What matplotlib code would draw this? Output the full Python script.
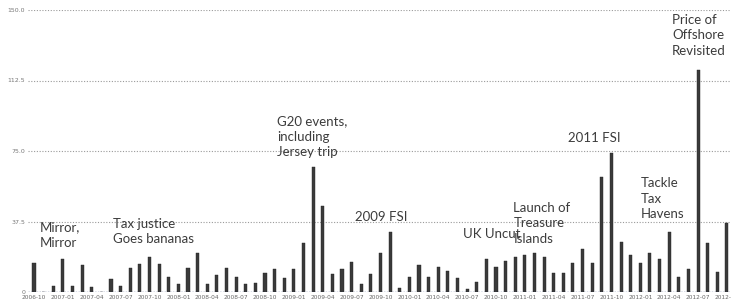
import matplotlib
matplotlib.use("Agg")
import matplotlib.pyplot as plt

# Monthly counts, 2006-10 .. 2012-10
VALUES = [
    15.3, 0, 3, 17.4, 3, 14.3, 2.5, 0, 7, 3,
    12.7, 14.8, 18.5, 14.8, 8, 4, 12.7, 20.6, 4.5, 9,
    12.7, 8, 4, 4.8, 10, 12.2, 7.4, 12.2, 26, 66.5,
    46, 9.5, 12.2, 16, 4.2, 9.5, 21, 31.7, 2, 8,
    14.3, 8, 13.2, 11, 7.4, 1.5, 5.3, 17.4, 13.2, 16.4,
    18.5, 19.5, 20.6, 18.5, 10, 10, 15.3, 22.7, 15.3, 61.3,
    74, 26.4, 19.5, 15.3, 20.6, 17.4, 31.7, 8, 12.2, 118,
    26, 10.6, 36.5,
]
TICK_LABELS = [
    "2006-10", "2007-01", "2007-04", "2007-07", "2007-10",
    "2008-01", "2008-04", "2008-07", "2008-10",
    "2009-01", "2009-04", "2009-07", "2009-10",
    "2010-01", "2010-04", "2010-07", "2010-10",
    "2011-01", "2011-04", "2011-07", "2011-10",
    "2012-01", "2012-04", "2012-07", "2012-10",
]
Y_TICKS = [0, 37.5, 75.0, 112.5, 150.0]
Y_LABELS = ["0", "37.5", "75.0", "112.5", "150.0"]

# annotation text, anchored at (bar index, value) of its upper-left corner
NOTES = [
    ("Mirror,\nMirror", 0.6, 37.5),
    ("Tax justice\nGoes bananas", 8.2, 39.5),
    ("G20 events,\nincluding\nJersey trip", 25.3, 94),
    ("2009 FSI", 33.4, 43),
    ("UK Uncut", 44.6, 34),
    ("Launch of\nTreasure\nIslands", 49.8, 48),
    ("2011 FSI", 55.5, 85),
    ("Tackle\nTax\nHavens", 63.0, 61),
    ("Price of\nOffshore\nRevisited", 66.3, 148),
]

TEXT = "#3c3c3c"
BAR = "#3a3a3a"
GRID = "#9a9a9a"

fig = plt.figure(figsize=(7.31, 3.04), dpi=100)
ax = fig.add_axes([28 / 731, 12 / 304, 703 / 731, 282 / 304])

x = list(range(len(VALUES)))
ax.bar(x, VALUES, width=0.32, color=BAR, edgecolor="#222222", linewidth=0.3,
       zorder=3)

ax.set_xlim(-0.62, 72.42)
ax.set_ylim(0, 150)
ax.set_yticks(Y_TICKS)
ax.set_yticklabels(Y_LABELS, fontsize=4.5, color="#777777")
ax.set_xticks(x[::3])
ax.set_xticklabels(TICK_LABELS, fontsize=4.2, color="#666666")
ax.tick_params(length=0, pad=2)

for v in Y_TICKS[1:]:
    ax.axhline(v, color=GRID, lw=0.8, ls=(0, (1, 1.5)), zorder=1)
ax.axhline(0, color="#4a5a8a", lw=1.0, ls=(0, (1, 1)), zorder=4)

for s in ax.spines.values():
    s.set_visible(False)

for txt, xi, yv in NOTES:
    bbox = None
    if txt.startswith("Price"):
        bbox = dict(facecolor="white", edgecolor="none", pad=1)
    ax.text(xi, yv, txt, ha="left", va="top", fontsize=9.5, color=TEXT,
            family="Lato", linespacing=1.35, zorder=5, bbox=bbox,
            clip_on=False)

fig.savefig("out.png", dpi=100, facecolor="white")
